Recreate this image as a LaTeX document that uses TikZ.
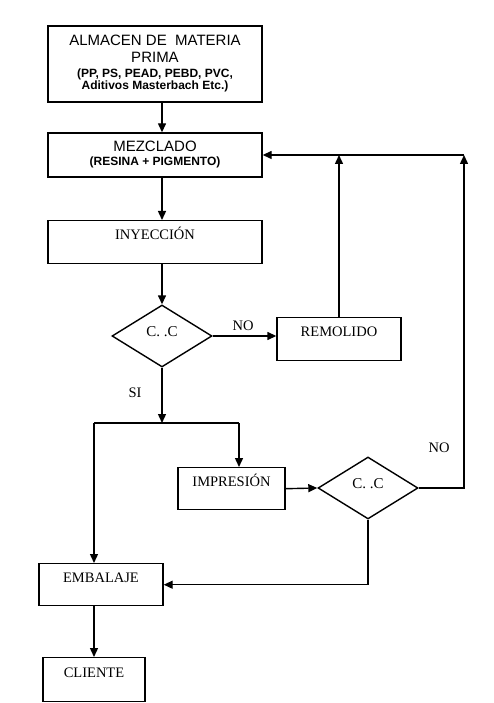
\documentclass[tikz,border=0pt]{standalone}
\usepackage{fontspec}
\setmainfont{Liberation Serif}
\newfontfamily\arialf{Liberation Sans}
\usetikzlibrary{arrows.meta,shapes.geometric}
\begin{document}
\begin{tikzpicture}[x=1pt,y=-1pt,line width=1.4pt,
  arr/.style={-{Triangle[length=9pt,width=8pt]}},
  sbox/.style={draw,rectangle,inner sep=0pt,align=center,font=\arialf\fontsize{15}{16}\selectfont},
  topbox/.style={draw,rectangle,inner sep=0pt,anchor=north,text height=19pt,font=\fontsize{14.5}{17}\selectfont},
  dia/.style={draw,diamond,inner sep=0pt,minimum width=100pt,minimum height=62pt,text height=10pt,text depth=10pt,font=\fontsize{15}{17}\selectfont},
  lbl/.style={inner sep=0pt,font=\fontsize{14.5}{17}\selectfont}]
\useasboundingbox (0,0) rectangle (493,703);
% boxes
\node[sbox,minimum width=214pt,minimum height=76pt] (alm) at (155,64)
  {ALMACEN DE~ MATERIA\\[1pt]PRIMA\\[-1pt]
   {\fontsize{12}{14}\selectfont\bfseries (PP, PS, PEAD, PEBD, PVC,}\\[-4pt]
   {\fontsize{12}{14}\selectfont\bfseries Aditivos Masterbach Etc.)}};
\node[sbox,minimum width=214pt,minimum height=44pt] (mez) at (155,155)
  {MEZCLADO\\[-2pt]{\fontsize{12}{14}\selectfont\bfseries (RESINA + PIGMENTO)}};
\node[topbox,minimum width=214pt,text depth=24pt] (iny) at (155,220) {INYECCIÓN};
\node[dia] (d1) at (162,336) {C. .C};
\node[topbox,minimum width=124pt,text depth=24pt] (rem) at (339,317) {REMOLIDO};
\node[topbox,minimum width=107pt,text depth=23pt] (imp) at (231.5,467) {IMPRESIÓN};
\node[dia] (d2) at (368,488) {C. .C};
\node[topbox,minimum width=124pt,text depth=23pt] (emb) at (101,563) {EMBALAJE};
\node[topbox,minimum width=102pt,text height=20pt,text depth=24pt] (cli) at (94,657) {CLIENTE};
% labels
\node[lbl] (no1) at (243,326) {NO};
\node[lbl] (si) at (135,393) {SI};
\node[lbl] (no2) at (439,448) {NO};
% helper coordinates
\coordinate (br) at (162,423);
\coordinate (bl) at (94,423);
\coordinate (bi) at (239,423);
\coordinate (xr) at (464,0);
% connectors
\draw[arr] (alm.south -| d1) -- (mez.north -| d1);
\draw[arr] (mez.south -| d1) -- (iny.north -| d1);
\draw[arr] (iny.south -| d1) -- (d1.north);
\draw[arr] (d1.east) -- (rem.west |- d1.east);
\draw[arr] (rem.north) -- (rem.north |- mez.east);
\draw[arr] (d2.east) -- (xr |- d2.east) -- (xr |- mez.east);
\draw[arr] (xr |- mez.east) -- (mez.east);
\draw[arr] (d1.south) -- (br);
\draw (bl) -- (bi);
\draw[arr] (bi) -- (bi |- imp.north);
\draw[arr] (bl) -- (bl |- emb.north);
\draw[arr] (imp.east) -- (d2.west);
\draw[arr] (d2.south) |- (emb.east);
\draw[arr] (cli.north |- emb.south) -- (cli.north);
\end{tikzpicture}
\end{document}
